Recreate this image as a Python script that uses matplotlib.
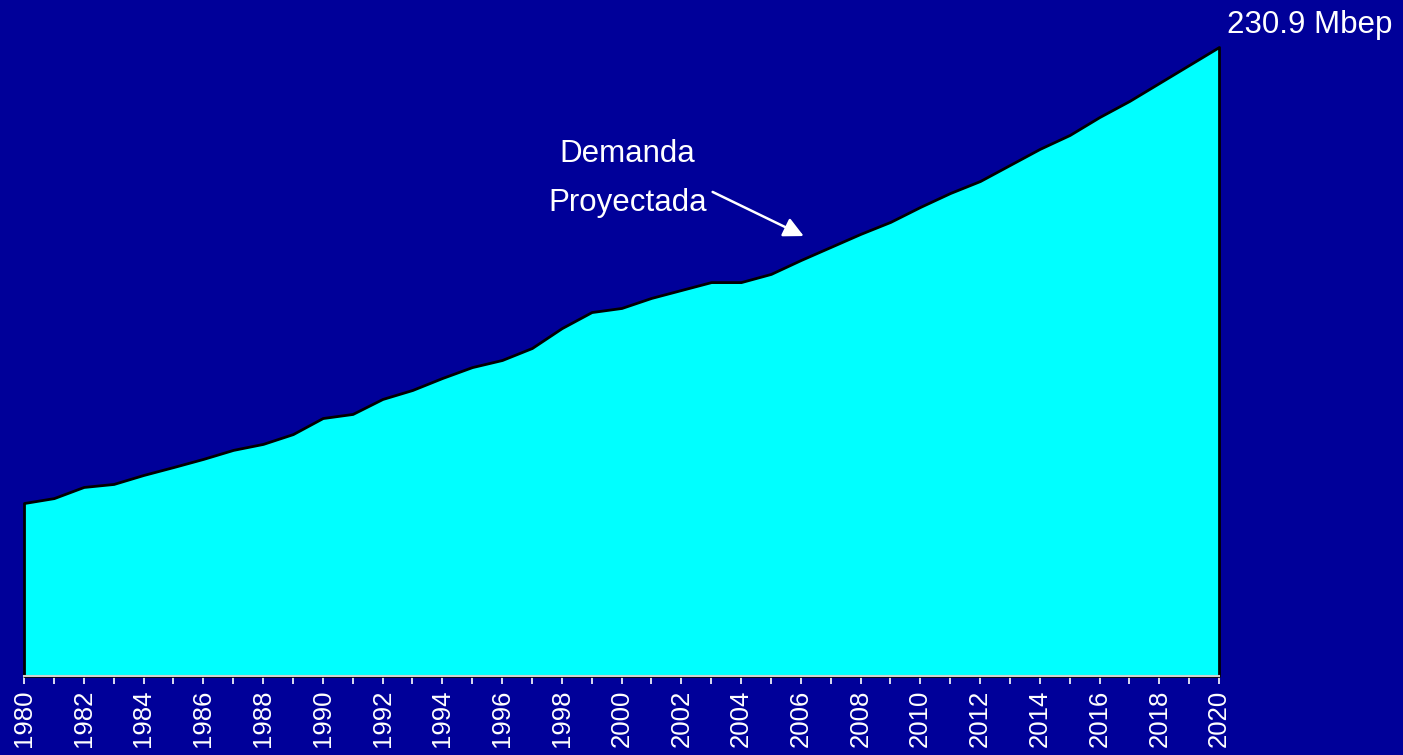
import numpy as np
import matplotlib.pyplot as plt

plt.rcParams['font.family'] = ['Liberation Sans', 'DejaVu Sans']

years = list(range(1980, 2021))
demanda = [63.5, 65.3, 69.4, 70.5, 73.8, 76.7, 79.7, 83.0, 85.2, 88.8,
           94.7, 96.2, 101.7, 105.0, 109.4, 113.4, 116.0, 120.4, 127.7, 133.6,
           135.1, 138.8, 141.7, 144.6, 144.6, 147.6, 152.7, 157.5, 162.3, 166.7,
           172.2, 177.3, 181.7, 187.6, 193.5, 198.6, 205.2, 211.1, 217.7, 224.3,
           230.9]
tick_years = years[::2]

bg = '#000099'
W, H = 1403, 755
fig = plt.figure(figsize=(W / 100, H / 100), dpi=100, facecolor=bg)
ax = fig.add_axes([24 / W, 1 - 676 / H, (1219 - 24) / W, (676 - 47) / H])
ax.set_facecolor(bg)

ax.fill_between(years, 0, demanda, facecolor='#00ffff', edgecolor='black',
                linewidth=2, clip_on=False, zorder=2)

ax.set_xlim(years[0], years[-1])
ax.set_ylim(0, demanda[-1])

for s in ['top', 'left', 'right']:
    ax.spines[s].set_visible(False)
ax.spines['bottom'].set_color('#d0d0d0')
ax.spines['bottom'].set_linewidth(1.5)
ax.spines['bottom'].set_zorder(3)

ax.set_yticks([])
ax.set_xticks(tick_years)
ax.set_xticklabels([str(y) for y in tick_years], rotation=90, color='white', fontsize=18.5)
ax.set_xticks(years, minor=True)
ax.tick_params(axis='x', which='both', colors='white', length=6, width=1.2, pad=4)

ax.text(2000.2, 188.7, 'Demanda', color='white', fontsize=22.5, ha='center', va='baseline')
ax.text(2000.2, 170.7, 'Proyectada', color='white', fontsize=22.5, ha='center', va='baseline')
ax.annotate('', xy=(2006.1, 161.5), xytext=(2003.05, 177.7),
            arrowprops=dict(arrowstyle='-|>,head_length=1.2,head_width=0.6',
                            color='white', lw=1.8, shrinkA=0, shrinkB=0))

ax.text(years[-1] + 0.27, 236.0, f'{demanda[-1]} Mbep', color='white', fontsize=22.5,
        ha='left', va='baseline', clip_on=False)

fig.savefig('out.png', dpi=100, facecolor=bg)
